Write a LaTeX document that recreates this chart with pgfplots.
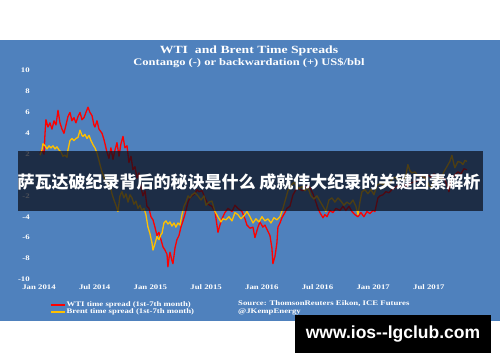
\documentclass[border=0pt]{standalone}
\usepackage{pgfplots}
\pgfplotsset{compat=1.18}
\usepackage{pgfplotstable}
\usepackage{fontspec}
\newfontfamily\chartfont[FakeStretch=1.25]{Liberation Serif}
\newfontfamily\cjk{Noto Sans CJK SC}
\newfontfamily\wmfont{Liberation Sans}
\definecolor{panelblue}{RGB}{79,129,189}
\definecolor{wtired}{RGB}{255,0,0}
\definecolor{brentgold}{RGB}{255,192,0}
\definecolor{bannerc}{RGB}{10,13,25}

% month index: 0 = Jan 2014
\pgfplotstableread{
m v
0.11 2.1
0.32 2.4
0.54 2.0
0.65 4.0
0.75 5.3
0.97 4.6
1.18 5.0
1.40 4.4
1.62 5.2
1.83 4.8
2.05 6.2
2.26 5.0
2.48 4.4
2.69 4.0
2.91 4.8
3.12 5.6
3.34 6.0
3.55 5.2
3.77 5.5
3.98 5.0
4.20 5.6
4.42 6.0
4.63 5.3
4.85 5.5
5.06 6.0
5.28 6.5
5.49 6.0
5.71 5.7
5.92 4.8
6.03 4.6
6.25 5.2
6.46 4.4
6.79 4.0
7.00 3.4
7.11 3.0
7.32 2.2
7.54 1.6
7.75 2.6
7.97 1.5
8.19 2.4
8.40 3.1
8.62 1.8
8.83 3.0
9.05 3.7
9.26 2.6
9.48 2.8
9.69 1.2
9.91 1.8
10.12 0.5
10.34 0.8
10.56 -0.3
10.77 0.2
10.99 -1.2
11.20 -2.0
11.42 -1.5
11.63 -3.0
11.85 -3.2
12.06 -4.0
12.28 -4.3
12.49 -5.0
12.71 -5.8
12.92 -5.5
13.14 -6.2
13.36 -6.9
13.57 -7.2
13.79 -7.6
13.89 -8.8
14.00 -8.0
14.11 -7.4
14.32 -8.2
14.43 -8.5
14.65 -7.0
14.86 -6.2
15.08 -5.8
15.29 -5.0
15.51 -4.4
15.72 -3.8
15.94 -3.0
16.05 -2.6
16.26 -2.2
16.48 -2.0
16.80 -1.8
17.02 -1.4
17.23 -1.6
17.56 -1.5
17.88 -2.2
18.20 -2.8
18.63 -3.0
18.96 -3.5
19.28 -5.5
19.49 -4.8
19.71 -4.2
20.03 -3.6
20.36 -3.2
20.79 -3.5
21.11 -2.9
21.43 -3.2
21.86 -3.5
22.19 -4.2
22.40 -4.8
22.73 -5.1
23.05 -5.0
23.26 -6.0
23.59 -5.0
23.80 -4.5
24.12 -5.0
24.34 -4.8
24.66 -5.4
24.88 -5.8
25.09 -7.0
25.20 -8.5
25.42 -7.8
25.63 -6.5
25.74 -5.0
25.96 -4.6
26.17 -4.1
26.49 -3.6
26.71 -3.2
27.03 -3.0
27.36 -1.9
27.68 -1.4
27.89 -1.2
28.11 -1.4
28.43 -1.5
28.65 -1.2
28.97 -1.0
29.19 -1.2
29.51 -1.8
29.83 -2.6
30.05 -3.2
30.26 -3.6
30.59 -4.1
30.80 -3.8
31.02 -4.0
31.34 -3.4
31.66 -3.6
31.99 -3.2
32.42 -3.4
32.74 -3.0
33.06 -3.4
33.39 -3.0
33.71 -3.5
34.03 -3.8
34.36 -4.0
34.68 -3.6
35.00 -4.0
35.33 -3.5
35.65 -3.7
35.97 -3.4
36.19 -3.5
36.51 -2.2
36.73 -2.0
37.05 -1.9
37.37 -1.6
37.70 -1.7
38.02 -1.4
38.34 -1.2
38.66 -1.0
38.99 -1.2
39.31 -0.9
39.63 -1.1
39.96 -0.8
40.28 -0.7
40.60 -0.6
40.93 -0.5
41.25 -0.1
41.57 -0.3
41.90 0.0
42.22 -0.2
42.54 0.1
42.86 -0.1
43.19 0.0
43.51 -0.3
43.73 -0.4
43.94 -1.0
44.16 -1.6
44.37 -0.6
44.59 -0.2
44.80 0.0
45.13 0.3
45.45 0.1
45.77 0.6
46.10 0.5
}\wtidata

\pgfplotstableread{
m v
0.11 1.9
0.32 2.4
0.43 3.0
0.65 2.8
0.86 2.5
1.08 2.8
1.29 2.6
1.51 2.8
1.72 2.5
1.94 2.7
2.15 2.4
2.37 2.2
2.58 1.8
2.80 1.9
3.02 1.7
3.12 2.4
3.34 3.3
3.55 3.5
3.77 3.3
3.98 3.5
4.20 3.6
4.42 4.3
4.63 3.8
4.74 3.7
4.95 3.9
5.17 3.5
5.39 3.8
5.60 3.3
5.82 2.9
6.03 2.6
6.25 2.1
6.46 1.4
6.57 1.0
6.79 0.3
7.00 -0.2
7.22 -0.7
7.43 -0.8
7.65 -1.0
7.86 -1.8
8.08 -2.4
8.29 -2.9
8.51 -3.5
8.72 -2.0
8.94 -1.6
9.15 -2.2
9.37 -1.8
9.59 -2.6
9.80 -1.9
10.02 -2.2
10.23 -2.8
10.45 -2.5
10.66 -3.2
10.88 -2.9
11.09 -3.4
11.31 -3.2
11.52 -3.8
11.74 -5.0
11.95 -5.6
12.17 -6.5
12.28 -7.2
12.49 -6.6
12.71 -5.9
12.92 -6.2
13.14 -5.7
13.25 -5.6
13.46 -4.6
13.68 -4.4
13.89 -4.7
14.11 -4.5
14.32 -4.9
14.54 -4.6
14.75 -5.0
14.97 -4.6
15.19 -4.8
15.40 -3.8
15.62 -3.0
15.83 -2.6
16.05 -2.0
16.26 -2.2
16.48 -1.9
16.80 -1.7
17.12 -2.0
17.45 -2.4
17.77 -2.0
17.99 -2.9
18.31 -2.6
18.63 -2.5
18.96 -3.5
19.28 -4.0
19.60 -4.5
19.82 -4.2
20.14 -4.3
20.46 -4.0
20.79 -4.4
21.11 -3.6
21.43 -3.8
21.76 -4.2
22.08 -3.9
22.40 -3.5
22.73 -4.0
23.05 -4.6
23.37 -4.2
23.69 -4.5
24.02 -4.0
24.34 -4.4
24.66 -4.2
24.99 -4.6
25.31 -4.1
25.63 -4.3
25.96 -4.0
26.28 -3.2
26.60 -2.2
26.82 -1.5
27.03 -1.2
27.25 -0.9
27.46 -0.7
27.68 -1.0
28.00 -1.3
28.33 -1.1
28.65 -1.5
28.97 -1.2
29.29 -2.0
29.62 -2.3
29.94 -2.0
30.26 -2.5
30.59 -3.0
30.91 -3.5
31.23 -2.4
31.56 -2.2
31.88 -2.6
32.20 -2.2
32.53 -2.5
32.85 -2.9
33.17 -2.6
33.49 -2.8
33.82 -2.4
34.14 -3.0
34.36 -3.8
34.57 -2.6
34.79 -1.6
35.11 -1.4
35.43 -1.8
35.76 -1.4
36.08 -1.9
36.40 -1.0
36.73 -0.8
37.05 -0.9
37.37 -0.7
37.70 -1.0
38.02 -0.4
38.34 -0.2
38.66 -0.5
38.99 -0.3
39.31 -0.6
39.53 0.0
39.74 1.0
39.96 0.4
40.17 0.2
40.50 0.3
40.82 -0.1
41.14 0.0
41.46 -0.2
41.79 -0.5
42.00 -1.0
42.22 -1.2
42.43 -0.8
42.65 -0.4
42.97 -0.2
43.30 -0.4
43.62 0.3
43.94 0.8
44.26 1.3
44.48 1.9
44.70 1.0
44.80 0.7
45.13 1.3
45.45 1.2
45.67 1.0
45.88 1.4
46.10 1.3
}\brentdata

\begin{document}
\begin{tikzpicture}[x=1pt,y=1pt]
\fill[white] (0,0) rectangle (500,362);
\fill[panelblue] (0,41) rectangle (500,322);
\begin{axis}[
  at={(29.7pt,82.7pt)}, anchor=south west,
  scale only axis, width=445.6pt, height=208.6pt,
  xmin=-1, xmax=47, ymin=-10, ymax=10,
  axis line style={draw=none},
  major tick length=0pt,
  xtick={0,6,12,18,24,30,36,42},
  xticklabels={Jan 2014,Jul 2014,Jan 2015,Jul 2015,Jan 2016,Jul 2016,Jan 2017,Jul 2017},
  ytick={-10,-8,-6,-4,-2,2,4,6,8,10},
  yticklabels={-10,-8,-6,-4,-2,2,4,6,8,10},
  ticklabel style={font=\chartfont\bfseries\fontsize{7}{8}\selectfont, text=white},
  yticklabel style={xshift=3.5pt},
  xticklabel style={yshift=-1.5pt, text height=5pt, text depth=1.5pt},
  legend style={at={(rel axis cs:0.0456,-0.105)}, anchor=north west,
    draw=none, fill=none, text=white, inner sep=0pt,
    font=\chartfont\bfseries\fontsize{7}{7.5}\selectfont,
    nodes={inner ysep=0.4pt, inner xsep=1pt}},
  legend cell align=left,
  legend image code/.code={\draw[#1, line width=1.4pt] (0pt,0pt) -- (14pt,0pt);},
]
\addplot[wtired, line width=1.3pt, line join=round] table[x=m,y=v]{\wtidata};
\addlegendentry{WTI time spread (1st-7th month)}
\addplot[brentgold, line width=1.3pt, line join=round] table[x=m,y=v]{\brentdata};
\addlegendentry{Brent time spread (1st-7th month)}
\end{axis}
\node[text=white, font=\chartfont\bfseries\fontsize{11}{12}\selectfont] at (249,311) {WTI\ \ and Brent Time Spreads};
\node[text=white, font=\chartfont\bfseries\fontsize{10}{11}\selectfont] at (249,299) {Contango (-) or backwardation (+) US\$/bbl};
\node[anchor=west, text=white, inner sep=0pt, font=\chartfont\bfseries\fontsize{7}{8}\selectfont] at (238,58.5) {Source: ThomsonReuters Eikon, ICE Futures};
\node[anchor=west, text=white, inner sep=0pt, font=\chartfont\bfseries\fontsize{7}{8}\selectfont] at (238,50) {@JKempEnergy};
\fill[bannerc, opacity=0.72] (18,151) rectangle (483,211);
\node[text=white, font=\cjk\bfseries\fontsize{17}{18}\selectfont, inner sep=0pt] at (249,180) {萨瓦达破纪录背后的秘诀是什么 成就伟大纪录的关键因素解析};
\fill[black] (295,9) rectangle (491,47);
\node[text=white, font=\wmfont\bfseries\fontsize{17.5}{19}\selectfont, inner sep=0pt] at (393,28) {www.ios--lgclub.com};
\end{tikzpicture}
\end{document}
